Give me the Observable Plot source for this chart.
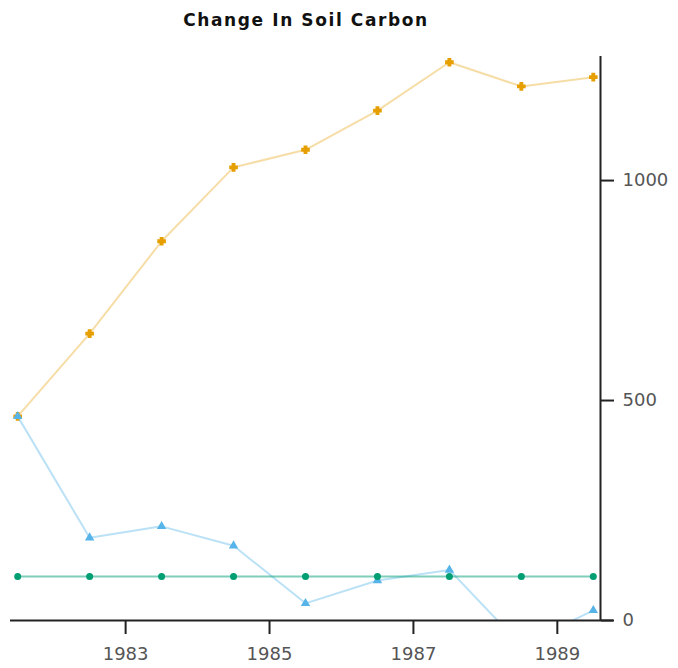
<!DOCTYPE html>
<html>
<head>
<meta charset="utf-8">
<script src="https://cdn.jsdelivr.net/npm/d3@7"></script>
<script src="https://cdn.jsdelivr.net/npm/@observablehq/plot@0.6"></script>
<style>
  body { margin: 0; background: #fff; }
  #title { width: 612px; height: 40px; text-align: center;
           font: bold 17px "DejaVu Sans"; line-height: 40px; color: #111; letter-spacing: 1.6px; }
</style>
</head>
<body>
<div id="title">Change In Soil Carbon</div>
<div id="chart"></div>
<script>
const years = [1981.5, 1982.5, 1983.5, 1984.5, 1985.5, 1986.5, 1987.5, 1988.5, 1989.5];
const orangeValues = [464, 652, 862, 1030, 1070, 1159, 1269, 1214, 1235];
const blueValues = [464, 188, 214, 170, 39, 91, 115, -57, 23];
const greenValues = [100, 100, 100, 100, 100, 100, 100, 100, 100];
const xTicks = [1983, 1985, 1987, 1989];
const yTicks = [0, 500, 1000];
const xDomain = [1981.4, 1989.6];
const yDomain = [0, 1282];

const toRows = vals => years.map((x, i) => ({x, y: vals[i]}));
const orange = toRows(orangeValues);
const blue = toRows(blueValues);
const green = toRows(greenValues);

const chart = Plot.plot({
  width: 678,
  height: 628,
  marginTop: 16,
  marginBottom: 48,
  marginLeft: 10,
  marginRight: 78,
  style: {fontFamily: "DejaVu Sans", fontSize: "18px", color: "#333", background: "#fff"},
  x: {domain: xDomain},
  y: {domain: yDomain},
  marks: [
    Plot.line(orange, {x: "x", y: "y", stroke: "#e69f00", strokeOpacity: 0.35, strokeWidth: 2, clip: true}),
    Plot.dot(orange, {x: "x", y: "y", symbol: "cross", r: 3, fill: "#e69f00", stroke: "#e69f00", strokeWidth: 1.5, clip: true}),
    Plot.line(blue, {x: "x", y: "y", stroke: "#56b4e9", strokeOpacity: 0.4, strokeWidth: 2, clip: true}),
    Plot.dot(blue, {x: "x", y: "y", symbol: "triangle", r: 3.5, fill: "#56b4e9", clip: true}),
    Plot.line(green, {x: "x", y: "y", stroke: "#009e73", strokeOpacity: 0.5, strokeWidth: 2, clip: true}),
    Plot.dot(green, {x: "x", y: "y", symbol: "circle", r: 3.5, fill: "#009e73", clip: true}),
    Plot.axisX({ticks: xTicks, tickFormat: d3.format("d"), tickSize: 14, tickPadding: 13, strokeWidth: 2, stroke: "#222", fill: "#555", label: null}),
    Plot.axisY({anchor: "right", ticks: yTicks, tickFormat: d3.format("d"), tickSize: 13, tickPadding: 9, strokeWidth: 2, stroke: "#222", fill: "#555", label: null}),
    Plot.ruleY([0], {stroke: "#222", strokeWidth: 2, insetRight: -13}),
    Plot.ruleX([xDomain[1]], {stroke: "#222", strokeWidth: 2})
  ]
});
document.getElementById("chart").appendChild(chart);
</script>
</body>
</html>
